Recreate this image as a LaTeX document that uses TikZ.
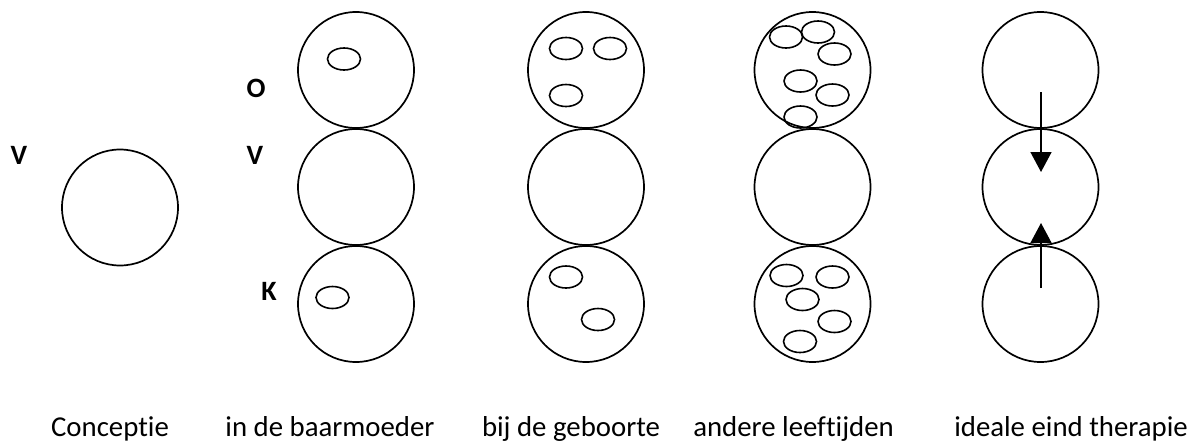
\documentclass[tikz,border=0pt]{standalone}
\usepackage{fontspec}
\setmainfont{Carlito}[Ligatures=NoCommon]
\usetikzlibrary{shapes.geometric,arrows.meta}
\begin{document}
\begin{tikzpicture}[x=1pt,y=-1pt,
  bigc/.style={draw,circle,line width=1.7pt,minimum size=116pt,inner sep=0pt},
  egg/.style={draw,ellipse,line width=1.6pt,minimum width=33pt,minimum height=22pt,inner sep=0pt},
  lab/.style={font=\fontsize{28}{32}\selectfont\bfseries,inner sep=0pt},
  captext/.style={font=\fontsize{28.8}{32}\selectfont,anchor=base,inner sep=0pt},
  arr/.style={line width=1.5pt,-{Triangle[width=21pt,length=20pt]}}]
\useasboundingbox (0,0) rectangle (1201,442);
% column 1
\node[lab] (v1) at (19,155) {V};
\node[bigc] (c1) at (120,207.5) {};
% column 2
\node[lab] (o2) at (256,88) {O};
\node[lab] (v2) at (255,155.5) {V};
\node[lab] (k2) at (269,291) {K};
\node[bigc] (t2) at (356,70) {};
\node[bigc] (m2) at (356,187) {};
\node[bigc] (b2) at (356,304) {};
\node[egg] (t2a) at (344,59) {};
\node[egg] (b2a) at (332.5,297.5) {};
% column 3
\node[bigc] (t3) at (586,70) {};
\node[bigc] (m3) at (586,187) {};
\node[bigc] (b3) at (586,304) {};
\node[egg] (t3a) at (566,48.5) {};
\node[egg] (t3b) at (610,48.5) {};
\node[egg] (t3c) at (566,95.5) {};
\node[egg] (b3a) at (566,277) {};
\node[egg] (b3b) at (598,319.5) {};
% column 4
\node[bigc] (t4) at (812.5,70) {};
\node[bigc] (m4) at (812.5,187) {};
\node[bigc] (b4) at (812.5,304) {};
\node[egg] (t4a) at (786,37) {};
\node[egg] (t4b) at (818,32) {};
\node[egg] (t4c) at (834.5,54) {};
\node[egg] (t4d) at (800.5,81) {};
\node[egg] (t4e) at (832.5,95) {};
\node[egg] (t4f) at (800.5,117) {};
\node[egg] (b4a) at (786.5,275.5) {};
\node[egg] (b4b) at (832.5,277) {};
\node[egg] (b4c) at (802.5,299.5) {};
\node[egg] (b4d) at (834.5,321.5) {};
\node[egg] (b4e) at (800,341.5) {};
% column 5
\node[bigc] (t5) at (1040.5,70) {};
\node[bigc] (m5) at (1040.5,187) {};
\node[bigc] (b5) at (1040.5,304) {};
\coordinate (a1s) at (1041,92);
\coordinate (a1e) at (1041,172);
\coordinate (a2s) at (1041,288);
\coordinate (a2e) at (1041,223);
\draw[arr] (a1s) -- (a1e);
\draw[arr] (a2s) -- (a2e);
% captions
\node[captext] (l1) at (110,436) {Conceptie};
\node[captext] (l2) at (330,436) {in de baarmoeder};
\node[captext] (l3) at (571,436) {bij de geboorte};
\node[captext] (l4) at (793.5,436) {andere leeftijden};
\node[captext] (l5) at (1071,436) {ideale eind therapie};
\end{tikzpicture}
\end{document}
